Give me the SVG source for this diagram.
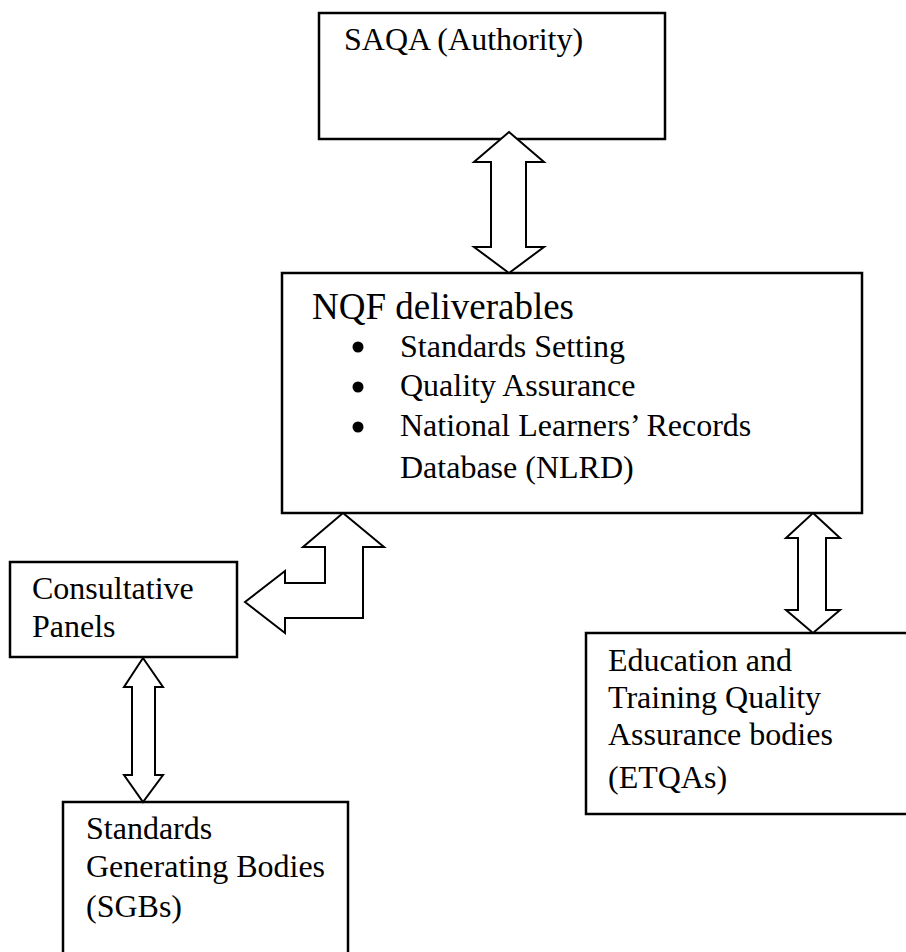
<svg xmlns="http://www.w3.org/2000/svg" width="906" height="952" viewBox="0 0 906 952">
<style>
.box{fill:#fff;stroke:#000;stroke-width:2.5}
.arr{fill:#fff;stroke:#000;stroke-width:2;stroke-linejoin:miter}
text{font-family:"Liberation Serif","Times New Roman",serif;font-size:32px;fill:#000}
.big{font-size:37px}
</style>
<g id="saqa">
<rect class="box" x="319" y="13" width="346" height="126"/>
<text x="344" y="50">SAQA (Authority)</text>
</g>
<g id="nqf">
<rect class="box" x="282" y="273" width="580" height="240"/>
<text class="big" x="312" y="319">NQF deliverables</text>
<circle cx="358" cy="347" r="5.5"/>
<circle cx="358" cy="387" r="5.5"/>
<circle cx="358" cy="427" r="5.5"/>
<text x="400" y="357">Standards Setting</text>
<text x="400" y="396">Quality Assurance</text>
<text x="400" y="436">National Learners’ Records</text>
<text x="400" y="478">Database (NLRD)</text>
</g>
<g id="consultative">
<rect class="box" x="10" y="562" width="227" height="95"/>
<text x="32" y="599">Consultative</text>
<text x="32" y="637">Panels</text>
</g>
<g id="sgb">
<rect class="box" x="63" y="802" width="285" height="170"/>
<text x="86" y="839">Standards</text>
<text x="86" y="877">Generating Bodies</text>
<text x="86" y="917">(SGBs)</text>
</g>
<g id="etqa">
<rect class="box" x="586" y="633" width="340" height="181"/>
<text x="608" y="671">Education and</text>
<text x="608" y="708">Training Quality</text>
<text x="608" y="745">Assurance bodies</text>
<text x="608" y="788">(ETQAs)</text>
</g>
<g id="connectors">
<polygon class="arr" points="509,132 544,162 526,162 526,247 544,247 509,273 474,247 491,247 491,162 474,162"/>
<polygon class="arr" points="343,513 384,547 363,547 363,618 285,618 285,633 245,602 285,571 285,583 325,583 325,547 303,547"/>
<polygon class="arr" points="813,513 840,538 826,538 826,610 840,610 813,633 786,610 798,610 798,538 786,538"/>
<polygon class="arr" points="143,658 163,687 155,687 155,775 163,775 143,802 124,775 132,775 132,687 124,687"/>
</g>
</svg>
